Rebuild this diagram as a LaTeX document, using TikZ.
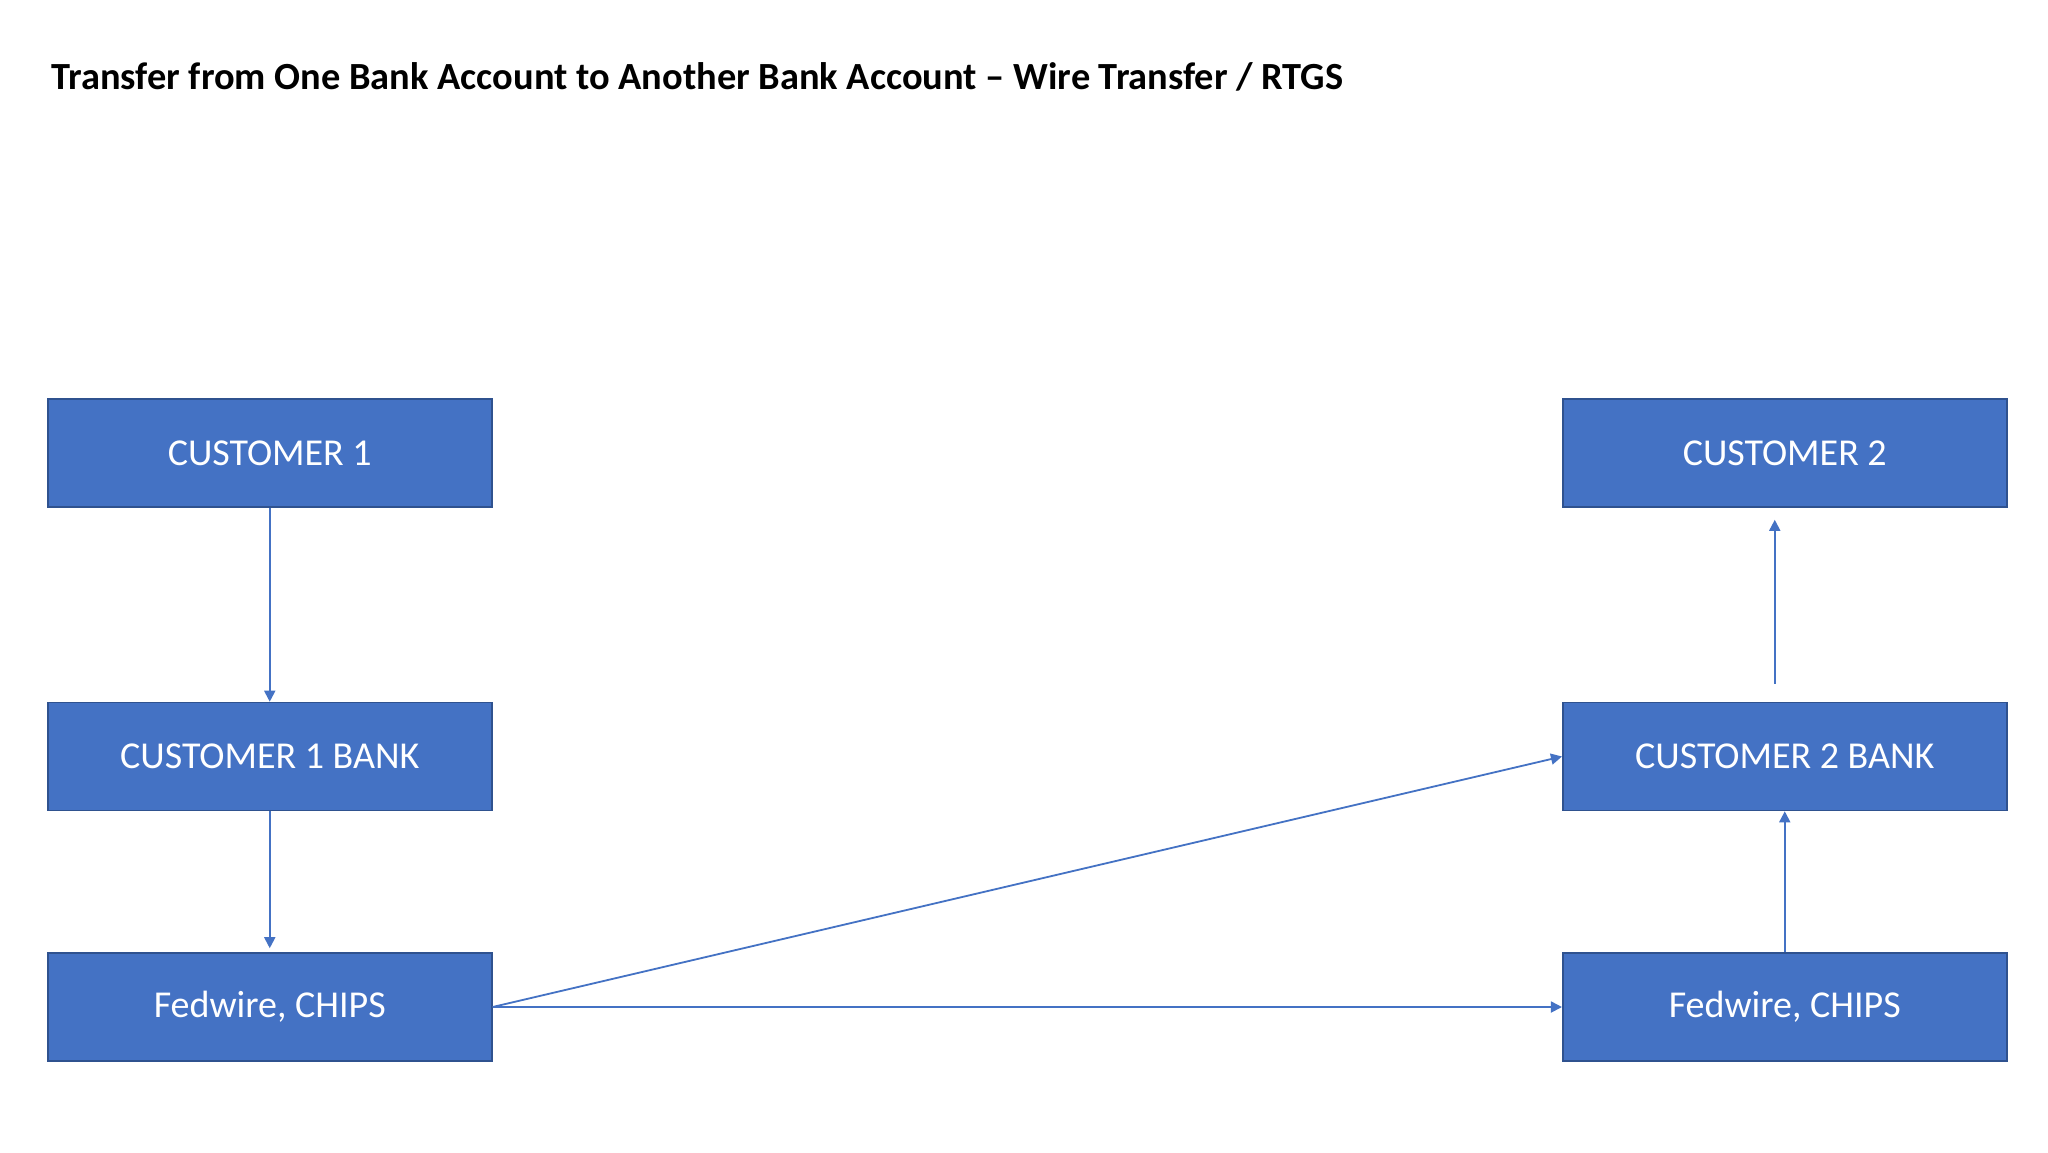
\documentclass[tikz,border=0pt]{standalone}
\usepackage{fontspec}
\setmainfont{Carlito}
\usetikzlibrary{arrows.meta}
\definecolor{boxblue}{HTML}{4472C4}
\definecolor{boxedge}{HTML}{2F528F}
\begin{document}
\begin{tikzpicture}[x=0.5pt,y=-0.5pt,
  bankbox/.style={draw=boxedge, line width=0.8pt, fill=boxblue, text=white,
    minimum width=222pt, minimum height=54pt, inner sep=0pt,
    font=\fontsize{19pt}{22pt}\selectfont},
  flow/.style={draw=boxblue, line width=0.9pt, -{Triangle[length=5.5pt,width=5.5pt]}}]
\fill[white] (0,0) rectangle (2048,1152);
\useasboundingbox (0,0) rectangle (2048,1152);
\node[anchor=base west, inner sep=0pt, font=\fontsize{19.2pt}{23pt}\selectfont\bfseries] (title) at (51,89)
  {Transfer from One Bank Account to Another Bank Account – Wire Transfer / RTGS};
\node[bankbox] (c1) at (269.75,453) {CUSTOMER 1};
\node[bankbox] (c1b) at (269.75,756.5) {CUSTOMER 1 BANK};
\node[bankbox] (f1) at (269.75,1007) {Fedwire, CHIPS};
\node[bankbox] (c2) at (1784.75,453) {CUSTOMER 2};
\node[bankbox] (c2b) at (1784.75,756.5) {CUSTOMER 2 BANK};
\node[bankbox] (f2) at (1784.75,1007) {Fedwire, CHIPS};
\coordinate (up1) at ([xshift=-5pt,yshift=9pt]c2b.north);
\coordinate (up2) at ([xshift=-5pt,yshift=-6pt]c2.south);
\draw[flow] (c1.south) -- (c1b.north);
\draw[flow, shorten >=2pt] (c1b.south) -- (f1.north);
\draw[flow] (f1.east) -- (c2b.west);
\draw[flow] (f1.east) -- (f2.west);
\draw[flow] (f2.north) -- (c2b.south);
\draw[flow] (up1) -- (up2);
\end{tikzpicture}
\end{document}
